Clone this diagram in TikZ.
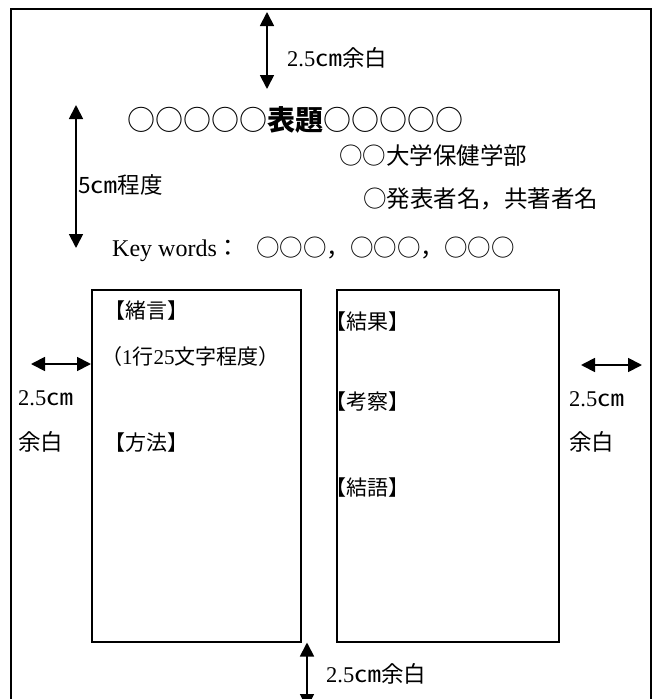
\documentclass[tikz,border=0pt]{standalone}
\usepackage{fontspec}
\usepackage{graphicx}
\newfontfamily\jp{Noto Sans CJK JP}
\newfontfamily\lser{Liberation Serif}
\newcommand{\cmu}{\scalebox{1.2}[1]{㎝}}
\usetikzlibrary{arrows.meta}
\tikzset{
  frameline/.style={line width=1.5pt},
  colbox/.style={draw, line width=1.5pt, inner sep=0pt},
  dimarrow/.style={line width=1.8pt,
    {Triangle[length=14pt,width=14pt]}-{Triangle[length=14pt,width=14pt]}},
  lbl/.style={anchor=west, inner sep=0pt, font=\jp\fontsize{22.5}{22.5}\selectfont},
  ttl/.style={anchor=west, inner sep=0pt, font=\jp\fontsize{28}{28}\selectfont},
  body/.style={anchor=west, inner sep=0pt, font=\jp\fontsize{23.5}{23.5}\selectfont},
  head/.style={anchor=west, inner sep=0pt, font=\jp\fontsize{21}{21}\selectfont}
}
\begin{document}
\begin{tikzpicture}[x=1pt,y=-1pt]
\useasboundingbox (0,0) rectangle (657,699);
\clip (0,0) rectangle (657,699);
\fill[white] (0,0) rectangle (657,699);
% outer page frame
\draw[frameline] (11,720) -- (11,9) -- (651,9) -- (651,720);
% columns
\node[colbox, minimum width=209pt, minimum height=352pt, anchor=north west] (lcol) at (91,289) {};
\node[colbox, minimum width=222pt, minimum height=352pt, anchor=north west] (rcol) at (336,289) {};
% top margin arrow
\coordinate (ta1) at (267,12);
\coordinate (ta2) at (267,89);
\draw[dimarrow] (ta1) -- (ta2);
\node[lbl] (tl) at (287,58) {{\lser 2.5}\cmu 余白};
% 5cm arrow
\coordinate (ha1) at (76,105);
\coordinate (ha2) at (76,248);
\draw[dimarrow] (ha1) -- (ha2);
\node[lbl] (hl) at (78,185) {5\cmu 程度};
% title block
\node[ttl] (title) at (127,120) {○○○○○{\bfseries 表題}○○○○○};
\node[body] (univ) at (339,156) {○○大学保健学部};
\node[body] (auth) at (363,199) {○発表者名，共著者名};
\node[body] (kw) at (112,249) {{\lser\fontsize{24}{24}\selectfont Key words}：\hspace{16pt}○○○，○○○，○○○};
% left/right margin arrows
\coordinate (la1) at (31,364);
\draw[dimarrow] (la1) -- (lcol.west |- la1);
\coordinate (ra2) at (642,365);
\draw[dimarrow] (581,365) coordinate (ra1) -- (ra2);
\node[lbl] (ll1) at (18,398) {{\lser 2.5}\cmu};
\node[lbl] (ll2) at (18,442) {余白};
\node[lbl] (rl1) at (569,399) {{\lser 2.5}\cmu};
\node[lbl] (rl2) at (569,442) {余白};
% left column text
\node[head] (h1) at (104,311) {【緒言】};
\node[head] (h2) at (101,357) {（{\lser 1}行{\lser 25}文字程度）};
\node[head] (h3) at (104,443) {【方法】};
% right column text
\node[head] (h4) at (325,322) {【結果】};
\node[head] (h5) at (325,402) {【考察】};
\node[head] (h6) at (325,488) {【結語】};
% bottom margin arrow
\coordinate (ba1) at (307,643);
\coordinate (ba2) at (307,708);
\draw[dimarrow] (lcol.south east -| ba1) -- (ba2);
\node[lbl] (bl) at (326,674) {{\lser 2.5}\cmu 余白};
\end{tikzpicture}
\end{document}
